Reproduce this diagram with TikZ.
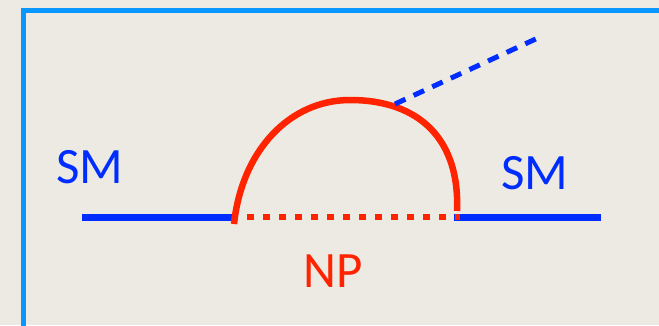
\documentclass[tikz,border=0pt]{standalone}
\usepackage{fontspec}
\setmainfont{Carlito}
\usepackage{tikz}

\definecolor{paper}{RGB}{237,234,228}
\definecolor{frameblue}{RGB}{10,150,255}
\definecolor{smblue}{RGB}{0,45,255}
\definecolor{npred}{RGB}{255,35,0}

\begin{document}
\begin{tikzpicture}[x=1pt,y=-1pt,
  smline/.style={draw=smblue,line width=7pt},
  npline/.style={draw=npred,line width=6.5pt},
  lbl/.style={inner sep=0pt,font=\fontsize{51}{51}\selectfont}]
\useasboundingbox (0,0) rectangle (659,325);
\clip (0,0) rectangle (659,325);
\fill[paper] (0,0) rectangle (659,325);
\draw[frameblue,line width=5pt] (23,340) -- (23,10.5) -- (680,10.5);
% vertices and external legs
\coordinate (inL) at (82,217);
\coordinate (vL) at (234,224);
\coordinate (top) at (350,100);
\coordinate (vR) at (457,211);
\coordinate (outR) at (601,217);
\coordinate (dotA) at (247,217);
\coordinate (dotB) at (460,217);
\coordinate (lineR) at (454,217);
\coordinate (emit) at (395,104);
\coordinate (phot) at (540,37);
\draw[smline] (inL) -- (vL |- inL);
\draw[smline] (lineR) -- (outR);
\draw[npline,dash pattern=on 7pt off 9pt] (dotA) -- (dotB);
\draw[npline] (vL) .. controls (242,150) and (290,100) .. (top)
  .. controls (420,100) and (460,140) .. (vR);
\draw[draw=smblue,line width=5pt,dash pattern=on 11.5pt off 9pt] (emit) -- (phot);
% labels
\node[lbl,text=smblue] (smL) at (90,167) {SM};
\node[lbl,text=smblue] (smR) at (535,173) {SM};
\node[lbl,text=npred] (np) at (333,271) {NP};
\end{tikzpicture}
\end{document}
